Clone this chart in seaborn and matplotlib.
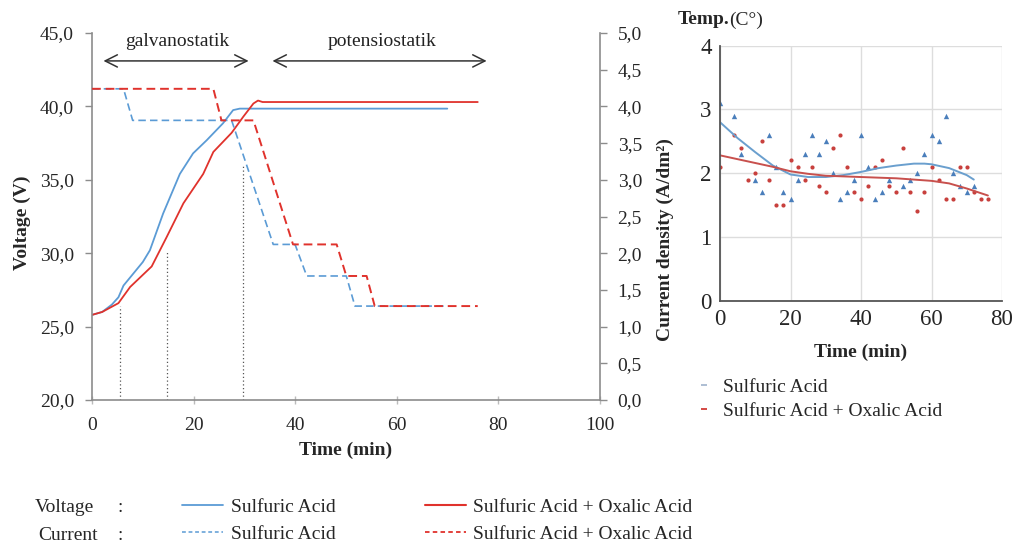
import numpy as np
import pandas as pd
import matplotlib
matplotlib.use("Agg")
import matplotlib.pyplot as plt
import seaborn as sns
from matplotlib.lines import Line2D
from matplotlib.ticker import FuncFormatter, MultipleLocator


BLUE = "#5B9BD5"
RED = "#E0322C"
SCAT_BLUE = "#4A7EBB"
SCAT_RED = "#C8403D"
TREND_BLUE = "#6A9FCE"
TREND_RED = "#C8504D"
SPINE = "#8C8C8C"

# voltage curves (main chart, left axis)
time_v_sulf = [0, 2, 3.9, 5.2, 6.2, 8.1, 10, 11.4, 14, 17.3, 19.9, 22.6, 25.8, 27.8, 29.1, 70]
volt_sulf = [25.8, 26.0, 26.5, 27.0, 27.8, 28.6, 29.4, 30.2, 32.7, 35.4, 36.8, 37.7, 38.85, 39.75, 39.85, 39.85]

time_v_ox = [0, 2, 5.2, 7.5, 11.75, 14.7, 18, 21.9, 23.9, 27.5, 29.8, 31.8, 32.7, 33.6, 76]
volt_ox = [25.8, 26.0, 26.6, 27.7, 29.1, 31.1, 33.4, 35.4, 36.9, 38.2, 39.3, 40.2, 40.4, 40.3, 40.3]

# current density steps (main chart, right axis)
time_i_sulf = [0, 6.2, 8, 27.5, 35.7, 40, 42.3, 50.1, 51.8, 70]
curr_sulf = [4.24, 4.24, 3.81, 3.81, 2.12, 2.12, 1.69, 1.69, 1.28, 1.28]

time_i_ox = [0, 23.9, 25.5, 31.8, 39.6, 48.2, 50.1, 54.1, 55.7, 76]
curr_ox = [4.24, 4.24, 3.81, 3.81, 2.12, 2.12, 1.69, 1.69, 1.28, 1.28]

# dotted markers down to the time axis
dot_times = [5.6, 14.8, 29.8]
dot_volts = [26.4, 30.2, 36.0]

# temperature inset
temp_t_sulf = [0, 4, 6, 10, 12, 14, 16, 18, 20, 22, 24, 26, 28, 30, 32, 34, 36, 38, 40,
               42, 44, 46, 48, 52, 54, 56, 58, 60, 62, 64, 66, 68, 70, 72]
temp_sulf = [3.1, 2.9, 2.3, 1.9, 1.7, 2.6, 2.1, 1.7, 1.6, 1.9, 2.3, 2.6, 2.3, 2.5, 2.0, 1.6, 1.7, 1.9, 2.6,
             2.1, 1.6, 1.7, 1.9, 1.8, 1.9, 2.0, 2.3, 2.6, 2.5, 2.9, 2.0, 1.8, 1.7, 1.8]

temp_t_ox = [0, 4, 6, 8, 10, 12, 14, 16, 18, 20, 22, 24, 26, 28, 30, 32, 34, 36, 38, 40,
             42, 44, 46, 48, 50, 52, 54, 56, 58, 60, 62, 64, 66, 68, 70, 72, 74, 76]
temp_ox = [2.1, 2.6, 2.4, 1.9, 2.0, 2.5, 1.9, 1.5, 1.5, 2.2, 2.1, 1.9, 2.1, 1.8, 1.7, 2.4, 2.6, 2.1, 1.7, 1.6,
           1.8, 2.1, 2.2, 1.8, 1.7, 2.4, 1.7, 1.4, 1.7, 2.1, 1.9, 1.6, 1.6, 2.1, 2.1, 1.7, 1.6, 1.6]

trend_t_sulf = [0, 5, 10, 15, 20, 25, 30, 35, 40, 45, 50, 55, 58, 60, 65, 70, 72]
trend_sulf = [2.8, 2.55, 2.33, 2.12, 1.98, 1.94, 1.94, 1.97, 2.02, 2.08, 2.12, 2.15, 2.15, 2.14, 2.08, 1.97, 1.9]

trend_t_ox = [0, 5, 10, 15, 20, 25, 30, 40, 50, 60, 65, 70, 76]
trend_ox = [2.28, 2.22, 2.16, 2.1, 2.03, 1.99, 1.96, 1.94, 1.92, 1.88, 1.84, 1.76, 1.65]


def comma_fmt(v, pos):
    return f"{v:.1f}".replace(".", ",")


sns.set_theme(style="white")
plt.rcParams["font.family"] = ["Liberation Serif", "DejaVu Serif"]

fig = plt.figure(figsize=(10.16, 5.45), dpi=100)

# main chart
ax = fig.add_axes([0.0906, 0.266, 0.4995, 0.6734])
ax2 = ax.twinx()

sns.lineplot(x=time_v_sulf, y=volt_sulf, ax=ax, color=BLUE, linewidth=1.3, estimator=None)
sns.lineplot(x=time_v_ox, y=volt_ox, ax=ax, color=RED, linewidth=1.3, estimator=None)
sns.lineplot(x=time_i_sulf, y=curr_sulf, ax=ax2, color=BLUE, linewidth=1.2,
             linestyle=(0, (4.5, 2.5)), estimator=None)
sns.lineplot(x=time_i_ox, y=curr_ox, ax=ax2, color=RED, linewidth=1.4,
             linestyle=(0, (4.5, 2.5)), estimator=None)

for t, v in zip(dot_times, dot_volts):
    ax.plot([t, t], [20, v], color="#555555", linestyle=(0, (1, 2)), linewidth=0.9)

ax.set_xlim(0, 100)
ax.set_ylim(20, 45)
ax2.set_ylim(0, 5)
ax.xaxis.set_major_locator(MultipleLocator(20))
ax.yaxis.set_major_locator(MultipleLocator(5))
ax2.yaxis.set_major_locator(MultipleLocator(0.5))
ax.yaxis.set_major_formatter(FuncFormatter(comma_fmt))
ax2.yaxis.set_major_formatter(FuncFormatter(comma_fmt))

for a in (ax, ax2):
    a.spines["top"].set_visible(False)
    for s in ("left", "right", "bottom"):
        a.spines[s].set_color(SPINE)
        a.spines[s].set_linewidth(1.2)
    a.set_ylabel("")
ax.spines["right"].set_visible(False)
ax2.spines["left"].set_visible(False)
ax2.spines["bottom"].set_visible(False)

ax.tick_params(axis="y", direction="out", length=5, width=1, color=SPINE, labelsize=14, pad=8, left=True)
ax.tick_params(axis="x", direction="inout", length=6, width=1, color="#BBBBBB", labelsize=14, pad=9, bottom=True)
ax2.tick_params(axis="y", direction="out", length=5, width=1, color=SPINE, labelsize=14, pad=8, right=True)

ax.set_xlabel("Time (min)", fontsize=14, fontweight="bold", labelpad=6)

fig.text(22 / 1016, 1 - 223 / 545, "Voltage (V)", rotation=90, ha="center", va="center",
         fontsize=14, fontweight="bold")
fig.text(665 / 1016, 1 - 240 / 545, "Current density (A/dm²)", rotation=90, ha="center",
         va="center", fontsize=14, fontweight="bold")

arrow_kw = dict(arrowstyle="<->", color="#333333", lw=1.1, mutation_scale=22)
ax.annotate("", xy=(31.4, 43.1), xytext=(1.7, 43.1), arrowprops=arrow_kw, annotation_clip=False)
ax.annotate("", xy=(78.3, 43.1), xytext=(35.0, 43.1), arrowprops=arrow_kw, annotation_clip=False)
ax.text(16.7, 44.45, "galvanostatik", ha="center", va="center", fontsize=14, color="#222222")
ax.text(57.2, 44.45, "potensiostatik", ha="center", va="center", fontsize=14, color="#222222")

# bottom legend
fig.text(35 / 1016, 1 - 508 / 545, "Voltage", ha="left", va="center", fontsize=14)
fig.text(38 / 1016, 1 - 535 / 545, "Current", ha="left", va="center", fontsize=14)
fig.text(120 / 1016, 1 - 508 / 545, ":", ha="center", va="center", fontsize=14)
fig.text(120 / 1016, 1 - 535 / 545, ":", ha="center", va="center", fontsize=14)

handles = [
    Line2D([], [], color=BLUE, linewidth=1.3),
    Line2D([], [], color=BLUE, linewidth=1.1, linestyle=(0, (2.5, 1.8))),
    Line2D([], [], color=RED, linewidth=1.5),
    Line2D([], [], color=RED, linewidth=1.3, linestyle=(0, (2.5, 1.8))),
]
labels = ["Sulfuric Acid", "Sulfuric Acid", "Sulfuric Acid + Oxalic Acid", "Sulfuric Acid + Oxalic Acid"]
fig.legend(handles, labels, ncol=2, loc="upper left", bbox_to_anchor=(182 / 1016, 1 - 498 / 545),
           frameon=False, fontsize=14, handlelength=2.1, handletextpad=0.4, columnspacing=4.6,
           labelspacing=0.5, borderpad=0, borderaxespad=0)

# temperature inset
axi = fig.add_axes([720 / 1016, 1 - 300.7 / 545, 282 / 1016, 255 / 545])
sns.scatterplot(x=temp_t_sulf, y=temp_sulf, ax=axi, marker="^", s=15, color=SCAT_BLUE, linewidth=0)
sns.scatterplot(x=temp_t_ox, y=temp_ox, ax=axi, marker="o", s=9, color=SCAT_RED, linewidth=0)
sns.lineplot(x=trend_t_sulf, y=trend_sulf, ax=axi, color=TREND_BLUE, linewidth=1.4, estimator=None)
sns.lineplot(x=trend_t_ox, y=trend_ox, ax=axi, color=TREND_RED, linewidth=1.4, estimator=None)

axi.set_xlim(0, 80)
axi.set_ylim(0, 4)
axi.set_xticks([0, 20, 40, 60, 80])
axi.set_yticks([0, 1, 2, 3, 4])
axi.grid(True, color="#DDDDDD", linewidth=1)
axi.set_axisbelow(True)
axi.spines["top"].set_visible(False)
axi.spines["right"].set_visible(False)
axi.spines["left"].set_color("#555555")
axi.spines["bottom"].set_color("#555555")
axi.spines["left"].set_linewidth(1.3)
axi.spines["bottom"].set_linewidth(1.3)
axi.tick_params(length=0, labelsize=16.5, pad=6)
axi.set_xlabel("Time (min)", fontsize=14, fontweight="bold", labelpad=10)
axi.set_ylabel("")

fig.text(678 / 1016, 1 - 20 / 545, "Temp.", ha="left", va="center", fontsize=14, fontweight="bold")
fig.text(729 / 1016, 1 - 20 / 545, "(C°)", ha="left", va="center", fontsize=14)

inset_handles = [
    Line2D([], [], color="#9FB3CC", marker="_", linestyle="None", markersize=5, markeredgewidth=1.2),
    Line2D([], [], color="#D44A44", marker="_", linestyle="None", markersize=5, markeredgewidth=1.4),
]
fig.legend(inset_handles, ["Sulfuric Acid", "Sulfuric Acid + Oxalic Acid"], loc="upper left",
           bbox_to_anchor=(694 / 1016, 1 - 378 / 545), frameon=False, fontsize=14,
           handlelength=1.0, handletextpad=0.5, labelspacing=0.35, borderpad=0, borderaxespad=0)

fig.savefig("out.png", dpi=100)
